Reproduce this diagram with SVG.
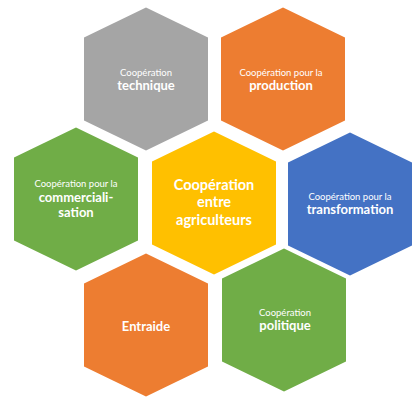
<svg xmlns="http://www.w3.org/2000/svg" width="416" height="398" viewBox="0 0 416 398">
<defs>
<polygon id="hex" points="0,-71.5 62,-41.5 62,41.5 0,71.5 -62,41.5 -62,-41.5"/>
</defs>
<style>
.s{font-family:Lato,"Open Sans","Liberation Sans",sans-serif;font-size:9.5px;fill:#fff;text-anchor:middle}
.b{font-family:Lato,"Open Sans","Liberation Sans",sans-serif;font-size:13px;font-weight:bold;fill:#fff;text-anchor:middle}
.c{font-family:Lato,"Open Sans","Liberation Sans",sans-serif;font-size:14.5px;font-weight:bold;fill:#fff;text-anchor:middle}
</style>
<rect width="416" height="398" fill="#fff"/>
<g id="technique">
<use href="#hex" x="146" y="79" fill="#A5A5A5"/>
<text class="s" x="146" y="75.5">Coopération</text>
<text class="b" x="146" y="89.5">technique</text>
</g>
<g id="production">
<use href="#hex" x="283" y="79" fill="#ED7D31"/>
<text class="s" x="281" y="75.5">Coopération pour la</text>
<text class="b" x="281" y="89.5">production</text>
</g>
<g id="commercialisation">
<use href="#hex" x="76" y="199" fill="#70AD47"/>
<text class="s" x="76" y="186.5">Coopération pour la</text>
<text class="b" x="76" y="201.5">commerciali-</text>
<text class="b" x="76" y="216.5">sation</text>
</g>
<g id="centre">
<use href="#hex" x="214" y="203" fill="#FFC000"/>
<text class="c" x="214" y="189.5">Coopération</text>
<text class="c" x="214" y="207">entre</text>
<text class="c" x="214" y="224.5">agriculteurs</text>
</g>
<g id="transformation">
<use href="#hex" x="350" y="204" fill="#4472C4"/>
<text class="s" x="350" y="199.5">Coopération pour la</text>
<text class="b" x="350" y="213.5">transformation</text>
</g>
<g id="entraide">
<use href="#hex" x="146" y="325" fill="#ED7D31"/>
<text class="b" x="146" y="330.5">Entraide</text>
</g>
<g id="politique">
<use href="#hex" x="284" y="320" fill="#70AD47"/>
<text class="s" x="285" y="315.5">Coopération</text>
<text class="b" x="285" y="329.5">politique</text>
</g>
<g id="connectors"></g>
</svg>
